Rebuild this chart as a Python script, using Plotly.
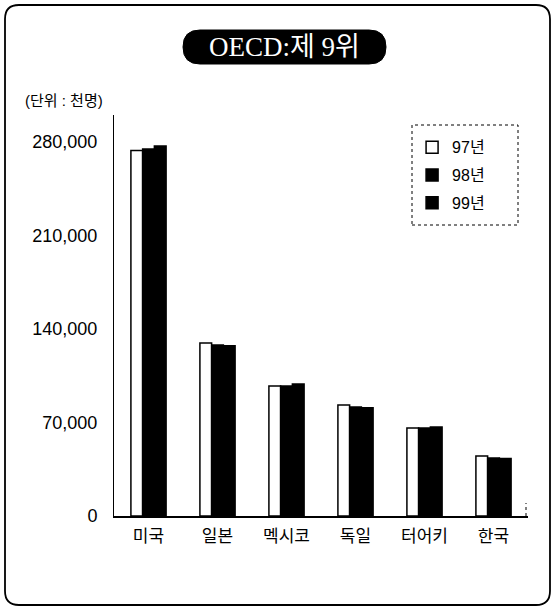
import plotly.graph_objects as go

# data (단위: 천명)
countries = ["미국", "일본", "멕시코", "독일", "터어키", "한국"]
pop_97 = [273500, 129500, 97300, 83100, 65900, 44900]
pop_98 = [274500, 128000, 97300, 81600, 65900, 43400]
pop_99 = [276800, 127300, 98800, 81000, 66500, 43000]
years = ["97년", "98년", "99년"]
y_ticks = [0, 70000, 140000, 210000, 280000]

W, H = 556, 612
L, R, T, B = 114, 28, 115, 96
pw, ph = W - L - R, H - T - B


# pixel -> paper helpers for the decorations
def px(x):
    return (x - L) / pw


def py(y):
    return (H - B - y) / ph


def round_rect(x0, y0, x1, y1, r):
    return (f"M {px(x0 + r)} {py(y0)} L {px(x1 - r)} {py(y0)} "
            f"Q {px(x1)} {py(y0)} {px(x1)} {py(y0 + r)} L {px(x1)} {py(y1 - r)} "
            f"Q {px(x1)} {py(y1)} {px(x1 - r)} {py(y1)} L {px(x0 + r)} {py(y1)} "
            f"Q {px(x0)} {py(y1)} {px(x0)} {py(y1 - r)} L {px(x0)} {py(y0 + r)} "
            f"Q {px(x0)} {py(y0)} {px(x0 + r)} {py(y0)} Z")


fig = go.Figure()
series = [pop_97, pop_98, pop_99]
fills = ["white", "black", "black"]
for i, (name, vals, col) in enumerate(zip(years, series, fills)):
    fig.add_trace(go.Bar(
        x=countries, y=vals, name=name, legendgroup=name,
        marker=dict(color=col, line=dict(color="black", width=1.5)),
    ))

sans = "Liberation Sans, Noto Sans CJK KR, sans-serif"

fig.update_layout(
    width=W, height=H,
    margin=dict(l=L, r=R, t=T, b=B),
    paper_bgcolor="white", plot_bgcolor="white",
    barmode="group", bargap=0.49, bargroupgap=0,
    font=dict(family=sans, color="black", size=17),
    showlegend=True,
    legend=dict(x=0.72, y=0.962, xanchor="left", yanchor="top",
                bgcolor="rgba(0,0,0,0)", borderwidth=0,
                font=dict(size=16, family=sans),
                tracegroupgap=4, itemwidth=30, traceorder="grouped"),
    xaxis=dict(showline=True, linecolor="black", linewidth=2, ticks="",
               showgrid=False, tickfont=dict(size=17, family="Noto Sans CJK KR"),
               ticklabelstandoff=4),
    yaxis=dict(range=[0, 300000], tickvals=y_ticks, tickformat=",",
               showline=True, linecolor="black", linewidth=1, ticks="",
               showgrid=False, zeroline=False, tickfont=dict(size=18),
               ticklabelstandoff=12),
    shapes=[
        # outer frame
        dict(type="path", xref="paper", yref="paper", path=round_rect(5, 5, 550, 605, 14),
             line=dict(color="black", width=1.8), layer="below"),
        # title pill
        dict(type="path", xref="paper", yref="paper", path=round_rect(183, 30, 386, 64, 17),
             fillcolor="black", line=dict(color="black", width=1)),
        # legend box
        dict(type="rect", xref="paper", yref="paper", x0=px(412), x1=px(518), y0=py(225), y1=py(125),
             line=dict(color="black", width=1, dash="dot")),
        # small tick at right end of the x axis
        dict(type="line", xref="paper", yref="paper", x0=px(526), x1=px(526), y0=py(516), y1=py(503),
             line=dict(color="black", width=1, dash="dot")),
    ],
    annotations=[
        dict(text="OECD:제 9위", xref="paper", yref="paper", x=px(284), y=py(47),
             xanchor="center", yanchor="middle", showarrow=False,
             font=dict(family="Liberation Serif, Noto Sans CJK KR, serif", size=27, color="white")),
        dict(text="(단위 : 천명)", xref="paper", yref="paper", x=px(64), y=py(100),
             xanchor="center", yanchor="middle", showarrow=False,
             font=dict(family=sans, size=15)),
    ],
)

fig.write_html("out.html", config={"displayModeBar": False},
               post_script="document.body.style.margin='0';")
